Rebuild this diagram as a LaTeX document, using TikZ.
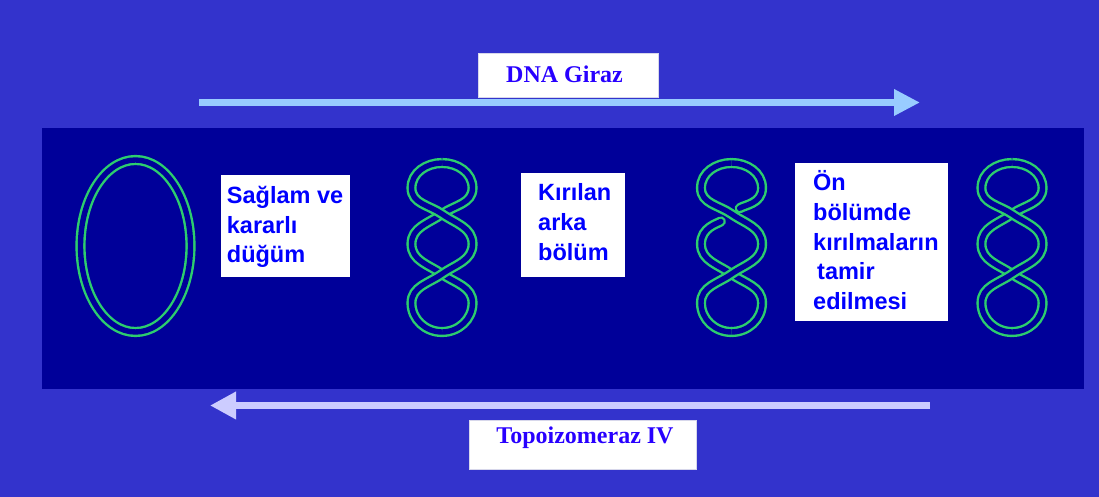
\documentclass[tikz,border=0pt]{standalone}
\usepackage{fontspec}
\setmainfont{Liberation Serif}
\setsansfont{Liberation Sans}
\usetikzlibrary{arrows.meta}

\definecolor{pagebg}{RGB}{51,51,204}
\definecolor{panel}{RGB}{0,0,153}
\definecolor{strand}{RGB}{45,205,110}
\definecolor{gyrasecol}{RGB}{153,204,255}
\definecolor{topocol}{RGB}{204,204,255}
\definecolor{labelblue}{RGB}{0,0,255}
\definecolor{titleblue}{RGB}{40,0,255}

\tikzset{
  knot/.style={draw=strand, line width=2.4pt, double=panel, double distance=5.4pt},
  whitebox/.style={fill=white, anchor=north west, inner sep=0pt},
  titlebox/.style={fill=white, draw={rgb,255:red,215;green,215;blue,235}, line width=0.8pt, anchor=north west, inner sep=0pt},
  labeltext/.style={anchor=north west, inner sep=0pt, align=left, text=labelblue,
    font=\sffamily\bfseries\fontsize{23.5}{29.7}\selectfont},
  titletext/.style={anchor=base, inner sep=0pt, text=titleblue,
    font=\rmfamily\bfseries\fontsize{24}{28}\selectfont},
  gyrasearrow/.style={draw=gyrasecol, line width=7pt, -{Triangle[length=26pt,width=25pt]}},
  topoarrow/.style={draw=topocol, line width=7pt, -{Triangle[length=26pt,width=26pt]}},
  % strands of a loop twisted twice, centred on x = #1
  twist over/.style={insert path={(#1,334) to[out=180,in=90] ({#1-30.5},309)
      to[out=-90,in=145] (#1,283) to[out=-35,in=90] ({#1+30.5},253)
      to[out=-90,in=35] (#1,223) to[out=215,in=90] ({#1-30.5},194)
      to[out=-90,in=180] (#1,165)}},
  twist lower/.style={insert path={(#1,165) to[out=0,in=-90] ({#1+30.5},194)
      to[out=90,in=-35] (#1,223) to[out=145,in=-90] ({#1-30.5},253)
      to[out=90,in=-145] (#1,283)}},
  twist upper/.style={insert path={(#1,283) to[out=35,in=-90] ({#1+30.5},309)
      to[out=90,in=0] (#1,334)}},
}

\begin{document}
\begin{tikzpicture}[x=1pt,y=1pt]
\useasboundingbox (0,0) rectangle (1099,497);
\fill[pagebg] (0,0) rectangle (1099,497);

% dark band holding the loops
\fill[panel] (42,108) rectangle (1084,369);

% upper arrow and its label
\coordinate (g0) at (199,394.5);
\coordinate (g1) at (920,394.5);
\draw[gyrasearrow] (g0) -- (g1);
\node[titlebox, minimum width=180pt, minimum height=44pt] (gbox) at (478,444) {};
\node[titletext] (gtext) at (564.5,414.5) {DNA Giraz};

% lower arrow and its label
\coordinate (t0) at (930,91.5);
\coordinate (t1) at (210,91.5);
\draw[topoarrow] (t0) -- (t1);
\node[titlebox, minimum width=227.5pt, minimum height=49pt] (tbox) at (468.5,77) {};
\node[titletext] (ttext) at (585,53.5) {Topoizomeraz IV};

% relaxed circle
\draw[knot] (135.5,251) ellipse [x radius=55, y radius=86];

% twisted loop, second position
\draw[knot, twist lower=442, twist upper=442];
\draw[knot, twist over=442];

% twisted loop with a broken strand
\draw[knot, line cap=round, shorten >=13pt, twist lower=731.5];
\draw[knot, line cap=round, shorten <=10pt, twist upper=731.5];
\draw[knot, twist over=731.5];

% twisted loop, last position
\draw[knot, twist lower=1012, twist upper=1012];
\draw[knot, twist over=1012];

% captions
\node[whitebox, minimum width=129.3pt, minimum height=101.7pt] (b1) at (220.7,322) {};
\node[labeltext] (c1) at (226.7,314.5) {\strut Sağlam ve\\kararlı\\düğüm};

\node[whitebox, minimum width=104.3pt, minimum height=104pt] (b2) at (520.7,324.3) {};
\node[labeltext] (c2) at (538,317.1) {\strut Kırılan\\arka\\bölüm};

\node[whitebox, minimum width=152.7pt, minimum height=158.3pt] (b3) at (795,334.3) {};
\node[labeltext] (c3) at (813,327.1) {\strut Ön\\bölümde\\kırılmaların\\\hspace*{4pt}tamir\\edilmesi};
\end{tikzpicture}
\end{document}
